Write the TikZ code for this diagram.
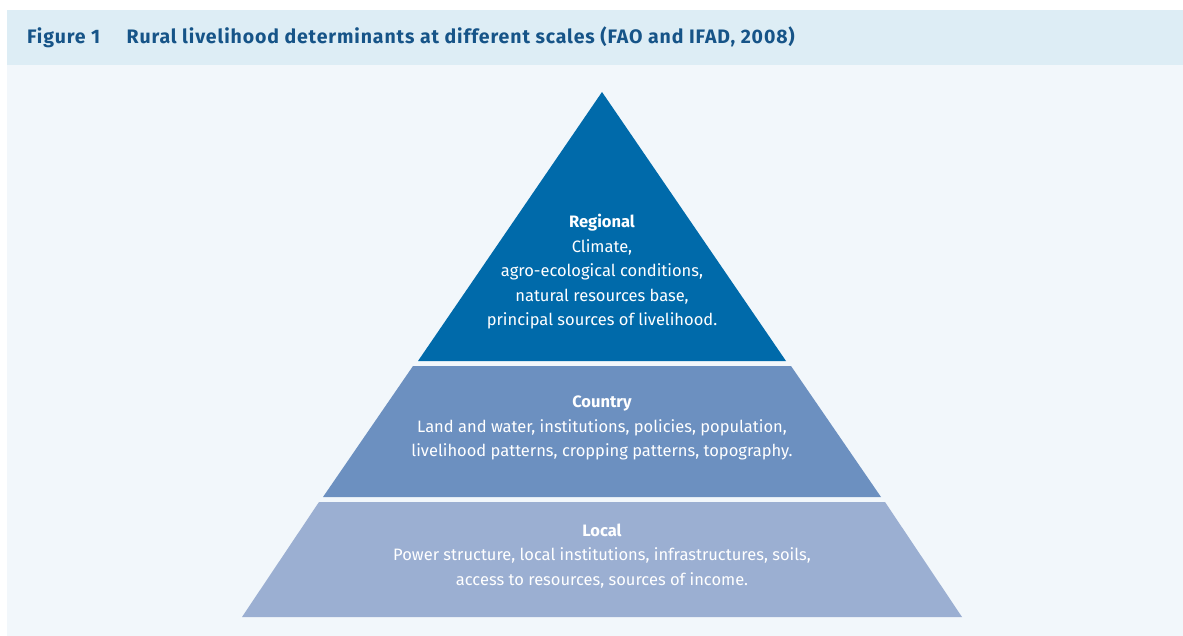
\documentclass[tikz,border=0pt]{standalone}
\usepackage{fontspec}
\setmainfont{Fira Sans}
\definecolor{headband}{RGB}{221,237,245}
\definecolor{bodyband}{RGB}{242,247,251}
\definecolor{headtext}{RGB}{22,84,136}
\definecolor{regionblue}{RGB}{0,106,170}
\definecolor{countryblue}{RGB}{108,144,192}
\definecolor{localblue}{RGB}{155,175,210}

\begin{document}
\begin{tikzpicture}[x=1pt,y=-1pt,
	tier/.style = {white, align=center, font=\fontsize{16.5}{24.5}\selectfont}]
				\useasboundingbox (0,0) rectangle (1183,636);
				\fill[white] (0,0) rectangle (1183,636);
				\fill[headband] (7,10) rectangle (1183,65);
				\fill[bodyband] (7,65) rectangle (1183,636);
				\node[anchor=base west, inner sep=0pt, headtext, font=\fontsize{19.5}{22}\selectfont\bfseries\addfontfeatures{LetterSpace=4.5}] (title) at (27,44)
					{Figure 1\hspace{1.35em}Rural livelihood determinants at different scales (FAO and IFAD, 2008)};
				% pyramid layers
				\fill[regionblue] (602,92) -- (786,361) -- (418,361) -- cycle;
				\fill[countryblue] (413,366) -- (791,366) -- (881,497) -- (323,497) -- cycle;
				\fill[localblue] (319,502) -- (885,502) -- (962,617) -- (242,617) -- cycle;
				\node[tier] (regional) at (602,272)
					{\textbf{Regional}\\Climate,\\agro-ecological conditions,\\natural resources base,\\principal sources of livelihood.};
				\node[tier] (country) at (602,428)
					{\textbf{Country}\\Land and water, institutions, policies, population,\\livelihood patterns, cropping patterns, topography.};
				\node[tier] (local) at (602,556)
					{\textbf{Local}\\Power structure, local institutions, infrastructures, soils,\\access to resources, sources of income.};
			\end{tikzpicture}
\end{document}
